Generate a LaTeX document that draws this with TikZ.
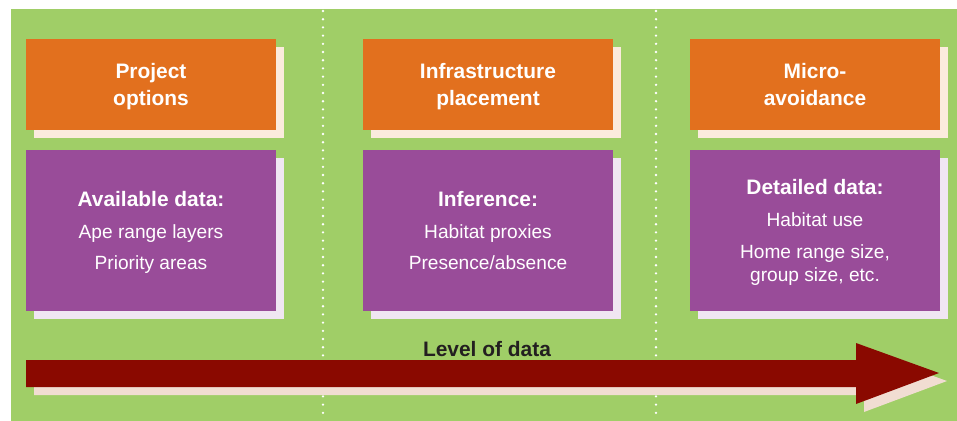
\documentclass[tikz,border=0pt]{standalone}
\usepackage{fontspec}
\setmainfont{Liberation Sans}
\usepackage{tikz}
\usetikzlibrary{shadows}

\definecolor{fieldgreen}{HTML}{A0CE67}
\definecolor{stageorange}{HTML}{E2701E}
\definecolor{stageshade}{HTML}{FBEBDD}
\definecolor{datapurple}{HTML}{994C99}
\definecolor{datashade}{HTML}{F0E6F2}
\definecolor{levelred}{HTML}{8A0900}
\definecolor{levelshade}{HTML}{F1DDD2}
\definecolor{levelink}{HTML}{231F20}

\newcommand{\datahead}{\fontsize{21}{24}\selectfont\bfseries}

\begin{document}
\begin{tikzpicture}[x=1bp, y=-1bp,
    stagebox/.style={fill=stageorange, text=white, align=center, inner sep=0pt,
        minimum width=250bp, minimum height=91bp, text depth=0pt,
        font=\fontsize{21}{27}\selectfont\bfseries,
        drop shadow={shadow xshift=8bp, shadow yshift=-8bp, fill=stageshade, opacity=1}},
    databox/.style={fill=datapurple, text=white, align=center, inner sep=0pt,
        minimum width=250bp, minimum height=161bp, text depth=0pt,
        font=\fontsize{19.2}{24}\selectfont,
        drop shadow={shadow xshift=8bp, shadow yshift=-8bp, fill=datashade, opacity=1}},
    divider/.style={white, line width=2.6bp, line cap=round, dash pattern=on 0pt off 8.2bp}]
    % green field
    \fill[fieldgreen] (11,9) rectangle (960,424);

    % dotted dividers between the three columns
    \coordinate (d1top) at (323,11);
    \coordinate (d1bot) at (323,420);
    \coordinate (d2top) at (656,11);
    \coordinate (d2bot) at (656,420);
    \draw[divider] (d1top) -- (d1bot);
    \draw[divider] (d2top) -- (d2bot);

    % stage of planning (orange)
    \node[stagebox] (S1) at (151,84.5) {Project\\options};
    \node[stagebox] (S2) at (488,84.5) {Infrastructure\\placement};
    \node[stagebox] (S3) at (815,84.5) {Micro-\\avoidance};

    % data needed (purple)
    \node[databox] (D1) at (151,230.5) {{\datahead Available data:}\\[8bp]
        Ape range layers\\[8bp] Priority areas};
    \node[databox] (D2) at (488,230.5) {{\datahead Inference:}\\[8bp]
        Habitat proxies\\[8bp] Presence/absence};
    \node[databox] (D3) at (815,230.5) {{\datahead Detailed data:}\\[8bp]
        Habitat use\\[8bp] Home range size,\\ group size, etc.};

    % level of data arrow, shadow first
    \fill[levelshade] (34,368) -- (864,368) -- (864,351) -- (947,381)
        -- (864,412) -- (864,395) -- (34,395) -- cycle;
    \fill[levelred] (26,360) -- (856,360) -- (856,343) -- (939,373)
        -- (856,404) -- (856,387) -- (26,387) -- cycle;
    \node[font=\datahead, text=levelink] (level) at (487,349) {Level of data};

    % page size
    \pgfresetboundingbox
    \useasboundingbox (0,0) rectangle (957,420);
\end{tikzpicture}
\end{document}
